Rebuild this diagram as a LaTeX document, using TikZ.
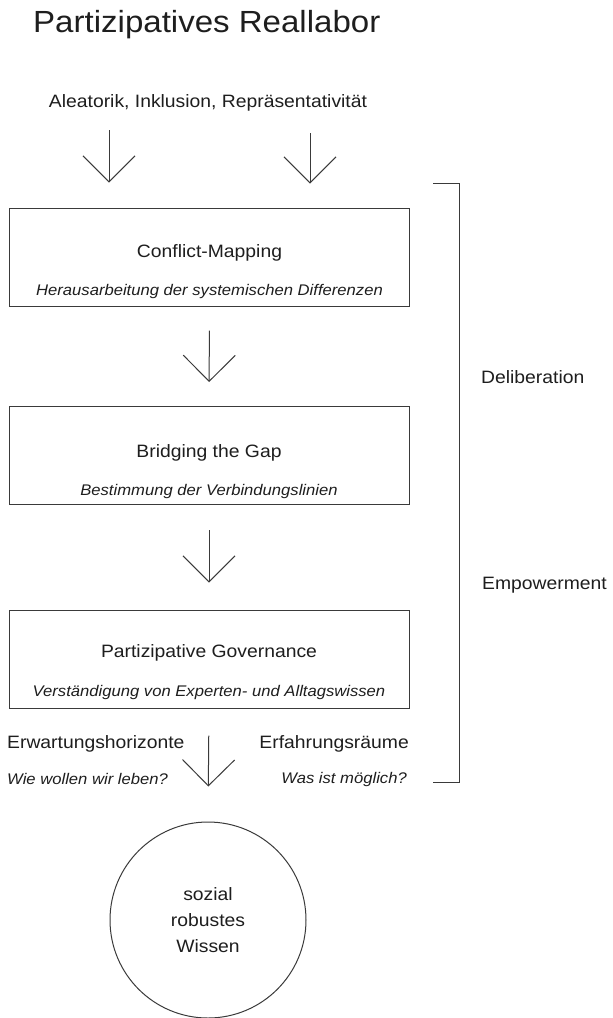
\documentclass[tikz,border=0pt]{standalone}
\usepackage{fontspec}
\setmainfont{Liberation Sans}[FakeStretch=1.08]
\usetikzlibrary{arrows.meta,calc}
\definecolor{ink}{HTML}{1E1E1E}
\definecolor{linec}{HTML}{3A3A3A}
\begin{document}
\begin{tikzpicture}[x=1pt,y=-1pt,
  txt/.style={inner sep=0pt, text=ink, font=\fontsize{17.9}{26}\selectfont},
  itx/.style={inner sep=0pt, text=ink, font=\fontsize{15.4}{20}\selectfont\itshape},
  stepbox/.style={draw=linec, line width=1pt, minimum width=400pt, minimum height=98pt, inner sep=0pt},
  arr/.style={draw=linec, line width=1pt, -{Straight Barb[length=26pt,width=52pt,line width=1pt]}}]
\useasboundingbox (0,0) rectangle (613,1018);
\fill[white] (0,0) rectangle (613,1018);

\node[inner sep=0pt, text=ink, font=\fontsize{30.6}{36}\selectfont, anchor=base west] (title) at (33,32) {Partizipatives Reallabor};
\node[txt, anchor=base] (aleat) at (208,107) {Aleatorik, Inklusion, Repräsentativität};

\node[stepbox] (b1) at (209.5,257) {};
\node[stepbox] (b2) at (209,455.5) {};
\node[stepbox] (b3) at (209,659) {};

\node[txt, anchor=base] (t1) at ($(b1.north)+(0,50)$) {Conflict-Mapping};
\node[itx, anchor=base] (s1) at ($(b1.north)+(0,88)$) {Herausarbeitung der systemischen Differenzen};
\node[txt, anchor=base] (t2) at ($(b2.north)+(0,51)$) {Bridging the Gap};
\node[itx, anchor=base] (s2) at ($(b2.north)+(0,89)$) {Bestimmung der Verbindungslinien};
\node[txt, anchor=base] (t3) at ($(b3.north)+(0,48)$) {Partizipative Governance};
\node[itx, anchor=base] (s3) at ($(b3.north)+(0,87)$) {Verständigung von Experten- und Alltagswissen};

\node[txt, anchor=base west] (erw) at (7,748) {Erwartungshorizonte};
\node[itx, anchor=base west] (wie) at (7,784) {Wie wollen wir leben?};
\node[txt, anchor=base east] (erf) at (409,748) {Erfahrungsräume};
\node[itx, anchor=base east] (was) at (407,783) {Was ist möglich?};

\node[draw=linec, line width=1pt, circle, minimum size=196pt, inner sep=0pt, align=center, text=ink, font=\fontsize{17.9}{26}\selectfont] (circ) at (208,920) {sozial\\robustes\\Wissen};

\node[txt, anchor=base west] (delib) at (481,383) {Deliberation};
\node[txt, anchor=base west] (empow) at (482,589) {Empowerment};

\coordinate (xl) at (109,0);
\coordinate (xr) at (310,0);
\draw[arr, shorten <=23pt, shorten >=25pt] (aleat.base -| xl) -- (b1.north -| xl);
\draw[arr, shorten <=26pt, shorten >=24pt] (aleat.base -| xr) -- (b1.north -| xr);
\draw[arr, shorten <=24pt, shorten >=24pt] (b1.south) -- (b2.north);
\draw[arr, shorten <=25pt, shorten >=27pt] (b2.south) -- (b3.north);
\draw[arr, shorten <=27pt, shorten >=35pt] (b3.south) -- (circ.north);

\draw[linec, line width=1pt] (433,183) -- (459,183) -- (459,782) -- (433,782);
\end{tikzpicture}
\end{document}
